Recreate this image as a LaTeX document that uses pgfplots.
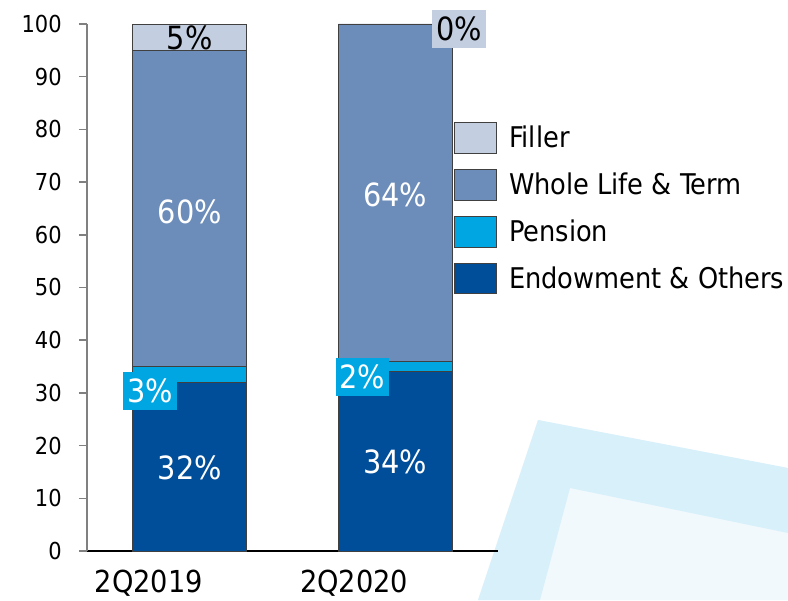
\documentclass[border=0pt]{standalone}
\usepackage{fontspec}
\setmainfont{DejaVu Sans Condensed}
\usepackage{pgfplots}
\pgfplotsset{compat=1.18}
\definecolor{endow}{RGB}{0,77,153}
\definecolor{pension}{RGB}{0,166,226}
\definecolor{whole}{RGB}{108,140,186}
\definecolor{filler}{RGB}{195,206,224}
\definecolor{band}{RGB}{216,240,250}
\definecolor{bandlight}{RGB}{241,249,253}
\newcommand{\lab}{\fontsize{24}{28}\selectfont}
\tikzset{barlab/.style={font=\lab, inner xsep=3pt, inner ysep=5.5pt, text height=17.5pt, text depth=0pt}}
\begin{document}
\begin{tikzpicture}
\useasboundingbox (0,0) rectangle (591pt,450pt);
\begin{scope}[x=0.75pt,y=-0.75pt,yshift=450pt]
\fill[bandlight] (538,420) -- (788,468) -- (788,600) -- (478,600) -- cycle;
\fill[band] (538,420) -- (788,468) -- (788,533) -- (570,488) -- (540,600) -- (478,600) -- cycle;
\end{scope}
\begin{axis}[at={(65.25pt,36.75pt)}, anchor=south west, scale only axis,
  width=308.25pt, height=395.25pt,
  ybar stacked, bar width=85.5pt,
  xmin=-0.5, xmax=1.5, ymin=0, ymax=100,
  xtick={0,1}, xticklabels={2Q2019,2Q2020},
  ytick={0,10,...,100},
  axis x line*=bottom, axis y line*=left,
  x axis line style={black,line width=1.5pt,-},
  y axis line style={black!50,line width=1.1pt,-},
  x tick style={draw=none},
  y tick style={black!50,line width=1.1pt},
  tick align=outside, major tick length=6pt,
  /pgf/number format/assume math mode=true,
  yticklabel style={font=\fontsize{17.5}{21}\selectfont, xshift=-9.5pt},
  xticklabel style={font=\fontsize{22.7}{27}\selectfont, anchor=base, xshift=-30.75pt, yshift=-25pt},
  clip=false,
  every axis plot post/.append style={draw=black!75, line width=0.6pt,
    legend image code/.code={\draw[##1,draw=black!75,line width=0.6pt] (0pt,-11.5pt) rectangle (31.5pt,11.5pt);}},
  reverse legend,
  legend cell align=left,
  legend style={at={(rel axis cs:0.893,0.814)}, anchor=north west, draw=none, fill=none,
    inner sep=0pt, font=\fontsize{21.4}{25}\selectfont, row sep=11.5pt,
    nodes={inner sep=0pt},
    /tikz/every odd column/.append style={column sep=9pt}},
  after end axis/.code={
    \node[barlab, text=white] at (axis cs:0,15.7) {32\%};
    \node[barlab, text=white] at (axis cs:0,64.3) {60\%};
    \node[barlab, text=black] at (axis cs:0,97.3) {5\%};
    \node[barlab, fill=pension, text=white] at (axis cs:-0.194,30.4) {3\%};
    \node[barlab, text=white] at (axis cs:1,16.9) {34\%};
    \node[barlab, text=white] at (axis cs:1,67.5) {64\%};
    \node[barlab, fill=pension, text=white] at (axis cs:0.84,33.0) {2\%};
    \node[barlab, fill=filler, text=black] at (axis cs:1.311,99.1) {0\%};
  },
]
\addplot[fill=endow] coordinates {(0,32) (1,34)};
\addplot[fill=pension] coordinates {(0,3) (1,2)};
\addplot[fill=whole] coordinates {(0,60) (1,64)};
\addplot[fill=filler] coordinates {(0,5) (1,0)};
\legend{Endowment \& Others, Pension, Whole Life \& Term, Filler}
\end{axis}
\end{tikzpicture}
\end{document}
